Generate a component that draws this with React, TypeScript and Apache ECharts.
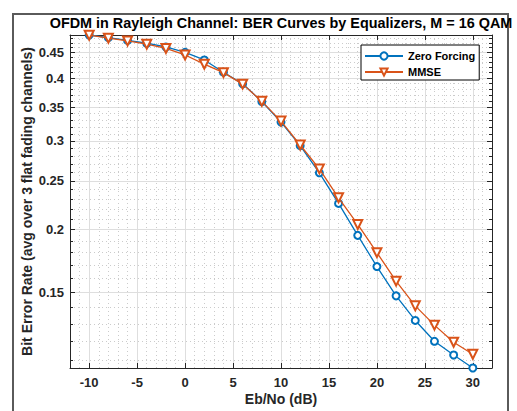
import React, { useEffect, useRef } from 'react';
import * as echarts from 'echarts';

const ebNo = [-10, -8, -6, -4, -2, 0, 2, 4, 6, 8, 10, 12, 14, 16, 18, 20, 22, 24, 26, 28, 30];
const berZeroForcing = [0.487, 0.481, 0.475, 0.469, 0.461, 0.45, 0.4345, 0.4108, 0.3895, 0.3593, 0.327, 0.2936, 0.2593, 0.2254, 0.1948, 0.1689, 0.1477, 0.132, 0.12, 0.1127, 0.1062];
const berMMSE = [0.4865, 0.48, 0.474, 0.467, 0.458, 0.4445, 0.4262, 0.41, 0.389, 0.3595, 0.3285, 0.2945, 0.264, 0.2313, 0.2048, 0.18, 0.158, 0.1411, 0.1292, 0.1195, 0.1131];
const seriesNames = ['Zero Forcing', 'MMSE'];
const xMajorTicks = [-10, -5, 0, 5, 10, 15, 20, 25, 30];
const yMajorTicks = [0.15, 0.2, 0.25, 0.3, 0.35, 0.4, 0.45];
const xRange = [-12, 32];

const FONT = "'Liberation Sans', Arial, Helvetica, sans-serif";
const INK = '#262626';
const lg = (v: number) => Math.log10(v);

export default function App() {
  const ref = useRef<HTMLDivElement>(null);
  useEffect(() => {
    const chart = echarts.init(ref.current!, null, { renderer: 'svg' });
    const yMin = lg(Math.min(...berZeroForcing, ...berMMSE));
    const yMax = lg(Math.max(...berZeroForcing, ...berMMSE));
    const yMajor = yMajorTicks.map(lg);
    const yMinor: number[] = [];
    for (let k = 11; k <= 48; k++) if (k % 5 !== 0) yMinor.push(lg(k / 100));
    const xMinor: number[] = [];
    for (let v = xRange[0] + 1; v < xRange[1]; v++) if (v % 5 !== 0) xMinor.push(v);

    const lineOn = { show: true, onZero: false, lineStyle: { color: INK, width: 1 } };
    const lineOff = { show: false, onZero: false };
    const labelOff = { show: false };
    const splitOff = { show: false };
    const majorSplit = { show: true, lineStyle: { color: '#dedede', width: 1 } };
    const minorSplit = { show: true, lineStyle: { color: '#cbcbcb', width: 1, type: [1, 3] } };
    const labelStyle = { color: INK, fontWeight: 'bold', fontSize: 13, fontFamily: FONT };
    const nameStyle = { color: INK, fontWeight: 'bold', fontSize: 14, fontFamily: FONT };

    const xBase = { type: 'value', min: xRange[0], max: xRange[1] };
    const yBase = { type: 'value', min: yMin, max: yMax };

    chart.setOption({
      animation: false,
      backgroundColor: '#ffffff',
      grid: { left: 70, right: 25, top: 35, bottom: 43 },
      graphic: [
        {
          type: 'rect',
          shape: { x: 13, y: 14, width: 495, height: 420 },
          style: { fill: 'none', stroke: '#5a5a5a', lineWidth: 2 },
          silent: true,
        },
        {
          type: 'text',
          x: 281,
          y: 23,
          style: {
            text: 'OFDM in Rayleigh Channel: BER Curves by Equalizers, M = 16 QAM',
            font: `bold 14.4px ${FONT}`,
            fill: '#000',
            align: 'center',
            verticalAlign: 'middle',
          },
        },
      ],
      legend: {
        orient: 'vertical',
        left: 361,
        top: 45,
        itemWidth: 38,
        itemHeight: 9,
        itemGap: 4,
        padding: [5, 4, 2, 3],
        backgroundColor: '#ffffff',
        borderColor: '#000',
        borderWidth: 1,
        borderRadius: 0,
        textStyle: { color: '#000', fontWeight: 'bold', fontSize: 11, fontFamily: FONT, lineHeight: 12 },
        data: seriesNames,
      },
      xAxis: [
        {
          ...xBase,
          position: 'bottom',
          axisLine: lineOn,
          axisTick: { show: true, inside: true, length: 5, customValues: xMajorTicks, lineStyle: { color: INK } },
          axisLabel: { show: true, customValues: xMajorTicks, margin: 8, ...labelStyle },
          splitLine: majorSplit,
          name: 'Eb/No (dB)',
          nameLocation: 'middle',
          nameGap: 24,
          nameMoveOverlap: false,
          nameTextStyle: nameStyle,
        },
        {
          ...xBase,
          position: 'bottom',
          axisLine: lineOff,
          axisTick: { show: false, customValues: xMinor },
          axisLabel: labelOff,
          splitLine: minorSplit,
        },
        {
          ...xBase,
          position: 'top',
          axisLine: lineOn,
          axisTick: { show: true, inside: true, length: 5, customValues: xMajorTicks, lineStyle: { color: INK } },
          axisLabel: labelOff,
          splitLine: splitOff,
        },
      ],
      yAxis: [
        {
          ...yBase,
          position: 'left',
          axisLine: lineOn,
          axisTick: { show: true, inside: true, length: 5, customValues: yMajor, lineStyle: { color: INK } },
          axisLabel: {
            show: true,
            customValues: yMajor,
            margin: 6,
            formatter: (v: number) => String(Number(Math.pow(10, v).toFixed(2))),
            ...labelStyle,
          },
          splitLine: majorSplit,
          name: 'Bit Error Rate (avg over 3 flat fading channels)',
          nameLocation: 'middle',
          nameGap: 36,
          nameMoveOverlap: false,
          nameTextStyle: nameStyle,
        },
        {
          ...yBase,
          position: 'left',
          axisLine: lineOff,
          axisTick: { show: true, inside: true, length: 3, customValues: yMinor, lineStyle: { color: INK } },
          axisLabel: labelOff,
          splitLine: minorSplit,
        },
        {
          ...yBase,
          position: 'right',
          axisLine: lineOn,
          axisTick: { show: true, inside: true, length: 5, customValues: yMajor, lineStyle: { color: INK } },
          axisLabel: labelOff,
          splitLine: splitOff,
        },
        {
          ...yBase,
          position: 'right',
          axisLine: lineOff,
          axisTick: { show: true, inside: true, length: 3, customValues: yMinor, lineStyle: { color: INK } },
          axisLabel: labelOff,
          splitLine: splitOff,
        },
      ],
      series: [
        {
          name: seriesNames[0],
          type: 'line',
          xAxisIndex: 0,
          yAxisIndex: 0,
          data: ebNo.map((x, i) => [x, lg(berZeroForcing[i])]),
          color: '#0072BD',
          lineStyle: { color: '#0072BD', width: 1.3 },
          symbol: 'emptyCircle',
          symbolSize: 7,
          itemStyle: { color: '#0072BD', borderColor: '#0072BD', borderWidth: 1.3 },
          z: 3,
        },
        {
          name: seriesNames[1],
          type: 'line',
          xAxisIndex: 0,
          yAxisIndex: 0,
          data: ebNo.map((x, i) => [x, lg(berMMSE[i])]),
          color: '#D95319',
          lineStyle: { color: '#D95319', width: 1.3 },
          symbol: 'emptyTriangle',
          symbolRotate: 180,
          symbolSize: 9,
          itemStyle: { color: '#D95319', borderColor: '#D95319', borderWidth: 1.3 },
          z: 4,
        },
      ],
    });
    return () => chart.dispose();
  }, []);
  return <div ref={ref} style={{ position: 'absolute', left: 0, top: 0, width: 517, height: 411 }} />;
}
